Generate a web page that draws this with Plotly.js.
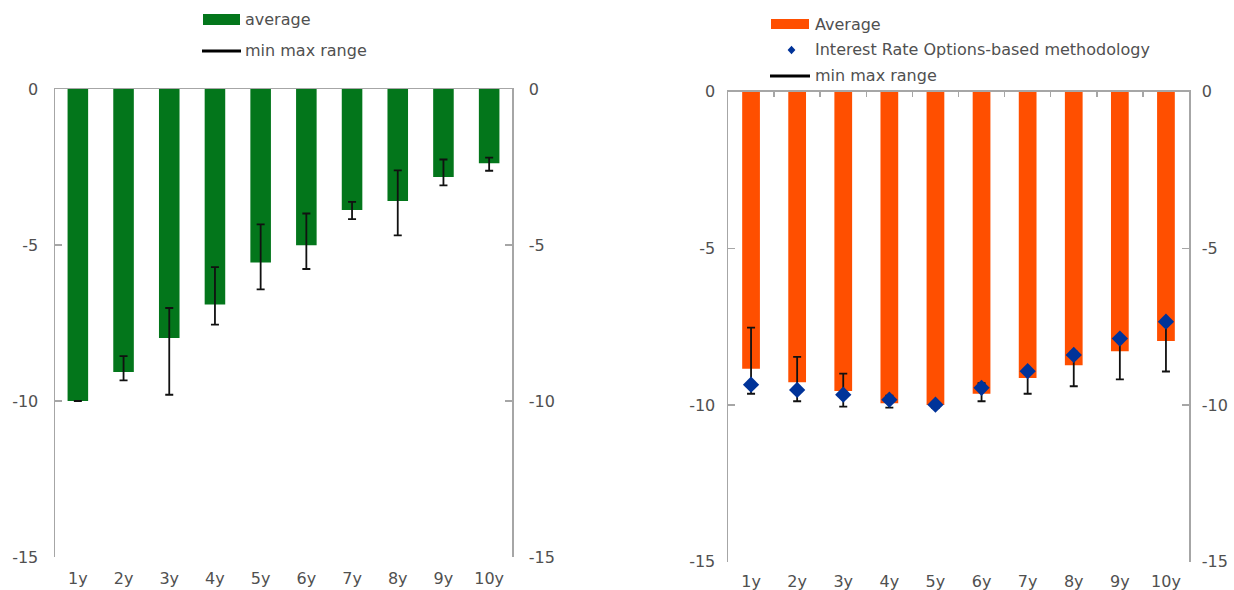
<!DOCTYPE html>
<html>
<head>
<meta charset="utf-8">
<script src="https://cdn.plot.ly/plotly-3.0.1.min.js"></script>
<style>
  html, body { margin: 0; padding: 0; background: #fff; }
  #chart { width: 1234px; height: 590px; }
</style>
</head>
<body>
<div id="chart"></div>
<script>
// Maturities on the horizontal axis
const maturities = ['1y', '2y', '3y', '4y', '5y', '6y', '7y', '8y', '9y', '10y'];

// Left panel: average with min/max range
const avgLeft = [-10.0, -9.07, -7.98, -6.91, -5.56, -5.01, -3.88, -3.59, -2.82, -2.38];
const minLeft = [-10.0, -9.34, -9.80, -7.55, -6.42, -5.77, -4.17, -4.69, -3.09, -2.62];
const maxLeft = [-10.0, -8.56, -7.02, -5.71, -4.34, -3.99, -3.62, -2.61, -2.26, -2.20];

// Right panel: average, options-based estimate and min/max range
const avgRight = [-8.84, -9.27, -9.55, -9.94, -10.0, -9.64, -9.14, -8.73, -8.28, -7.96];
const iroRight = [-9.35, -9.52, -9.67, -9.83, -9.99, -9.45, -8.92, -8.40, -7.88, -7.34];
const minRight = [-9.64, -9.88, -10.05, -10.08, -10.10, -9.88, -9.64, -9.40, -9.18, -8.93];
const maxRight = [-7.53, -8.46, -9.00, -9.70, -9.90, -9.30, -8.85, -8.30, -7.80, -7.30];

// Y axis ticks shared by both panels (labels use a plain hyphen)
const yTicks = [0, -5, -10, -15];
const yTickText = ['0', '-5', '-10', '-15'];

const W = 1234, H = 590;
const px = v => v / W;
const py = v => 1 - v / H;

const GREEN = '#03761b';
const ORANGE = '#ff4f00';
const NAVY = '#003399';
const AXIS = '#a6a6a6';
const TEXT = '#505050';
const FONT = 'DejaVu Sans, Liberation Sans, Arial, sans-serif';

// A scatter trace whose error bars span from max down to min
function rangeTrace(maxs, mins, xa, ya) {
  return {
    type: 'scatter', mode: 'markers', x: maturities, y: maxs,
    xaxis: xa, yaxis: ya, hoverinfo: 'skip', showlegend: false,
    marker: { size: 1, opacity: 0 },
    error_y: {
      type: 'data', symmetric: false,
      array: maxs.map(() => 0),
      arrayminus: maxs.map((v, i) => v - mins[i]),
      color: '#111', thickness: 1.8, width: 4
    }
  };
}

const traces = [
  { type: 'bar', x: maturities, y: avgLeft, xaxis: 'x', yaxis: 'y',
    marker: { color: GREEN }, width: 0.45, showlegend: false, hoverinfo: 'x+y' },
  rangeTrace(maxLeft, minLeft, 'x3', 'y3'),
  { type: 'bar', x: maturities, y: avgRight, xaxis: 'x2', yaxis: 'y2',
    marker: { color: ORANGE }, width: 0.385, showlegend: false, hoverinfo: 'x+y' },
  rangeTrace(maxRight, minRight, 'x2', 'y2'),
  { type: 'scatter', mode: 'markers', x: maturities, y: iroRight, xaxis: 'x4', yaxis: 'y4',
    marker: { symbol: 'diamond', size: 12.5, color: NAVY }, showlegend: false, hoverinfo: 'x+y' }
];

const tickFont = { family: FONT, size: 16, color: TEXT };

function catAxis(domain, anchor, standoff) {
  return {
    domain: domain, anchor: anchor, type: 'category',
    categoryorder: 'array', categoryarray: maturities, range: [-0.5, 9.5],
    showline: false, ticks: '', showgrid: false, zeroline: false,
    tickfont: tickFont, ticklabelstandoff: standoff, fixedrange: true
  };
}
function topAxis(over, anchor, withTicks) {
  return {
    overlaying: over, anchor: anchor, side: 'top', type: 'category',
    categoryorder: 'array', categoryarray: maturities, range: [-0.5, 9.5],
    showline: true, linecolor: AXIS, linewidth: 1.5,
    ticks: withTicks ? 'inside' : '', tickson: 'boundaries', ticklen: 5,
    tickcolor: AXIS, tickwidth: 1.5,
    showticklabels: false, showgrid: false, zeroline: false, fixedrange: true
  };
}
function valAxis(domain, anchor, side, over, standoff) {
  const ax = {
    anchor: anchor, side: side, range: [-15, 0],
    tickmode: 'array', tickvals: yTicks, ticktext: yTickText,
    ticks: 'inside', ticklen: 7, tickcolor: AXIS, tickwidth: 1.5,
    showline: true, linecolor: AXIS, linewidth: 1.5,
    showgrid: false, zeroline: false, tickfont: tickFont,
    ticklabelstandoff: standoff, fixedrange: true
  };
  if (over) ax.overlaying = over; else ax.domain = domain;
  return ax;
}

const yDomL = [py(557), py(89)];
const yDomR = [py(561.7), py(91.7)];

const layout = {
  width: W, height: H,
  margin: { l: 0, r: 0, t: 0, b: 0 },
  paper_bgcolor: '#fff', plot_bgcolor: 'rgba(0,0,0,0)',
  showlegend: false, barmode: 'overlay',
  font: { family: FONT, size: 16, color: TEXT },
  xaxis: catAxis([px(55), px(512)], 'y', 10),
  xaxis3: topAxis('x', 'y', false),
  yaxis: valAxis(yDomL, 'x', 'left', null, 12),
  yaxis3: valAxis(null, 'x', 'right', 'y', 12),
  xaxis2: catAxis([px(728), px(1189)], 'y2', 8),
  xaxis4: topAxis('x2', 'y2', true),
  yaxis2: valAxis(yDomR, 'x2', 'left', null, 8),
  yaxis4: valAxis(null, 'x2', 'right', 'y2', 8),
  shapes: [
    // left key
    { type: 'rect', xref: 'paper', yref: 'paper', x0: px(203), x1: px(240), y0: py(25), y1: py(14),
      fillcolor: GREEN, line: { width: 0 } },
    { type: 'line', xref: 'paper', yref: 'paper', x0: px(202), x1: px(241), y0: py(51), y1: py(51),
      line: { color: '#000', width: 3 } },
    // right key
    { type: 'rect', xref: 'paper', yref: 'paper', x0: px(771), x1: px(809), y0: py(29), y1: py(19),
      fillcolor: ORANGE, line: { width: 0 } },
    { type: 'path', xref: 'paper', yref: 'paper', xsizemode: 'pixel', ysizemode: 'pixel',
      xanchor: px(791.5), yanchor: py(50), path: 'M0,4.3 L3.9,0 L0,-4.3 L-3.9,0 Z',
      fillcolor: NAVY, line: { width: 0 } },
    { type: 'line', xref: 'paper', yref: 'paper', x0: px(770), x1: px(810), y0: py(76), y1: py(76),
      line: { color: '#000', width: 3 } }
  ],
  annotations: [
    { text: 'average', x: px(243), y: py(19) },
    { text: 'min max range', x: px(243), y: py(51) },
    { text: 'Average', x: px(813), y: py(24.5) },
    { text: 'Interest Rate Options-based methodology', x: px(813), y: py(49) },
    { text: 'min max range', x: px(813), y: py(75) }
  ].map(a => Object.assign({
    xref: 'paper', yref: 'paper', xanchor: 'left', yanchor: 'middle', showarrow: false,
    font: { family: FONT, size: 16, color: TEXT }
  }, a))
};

Plotly.newPlot('chart', traces, layout, { displayModeBar: false, staticPlot: true });
</script>
</body>
</html>
